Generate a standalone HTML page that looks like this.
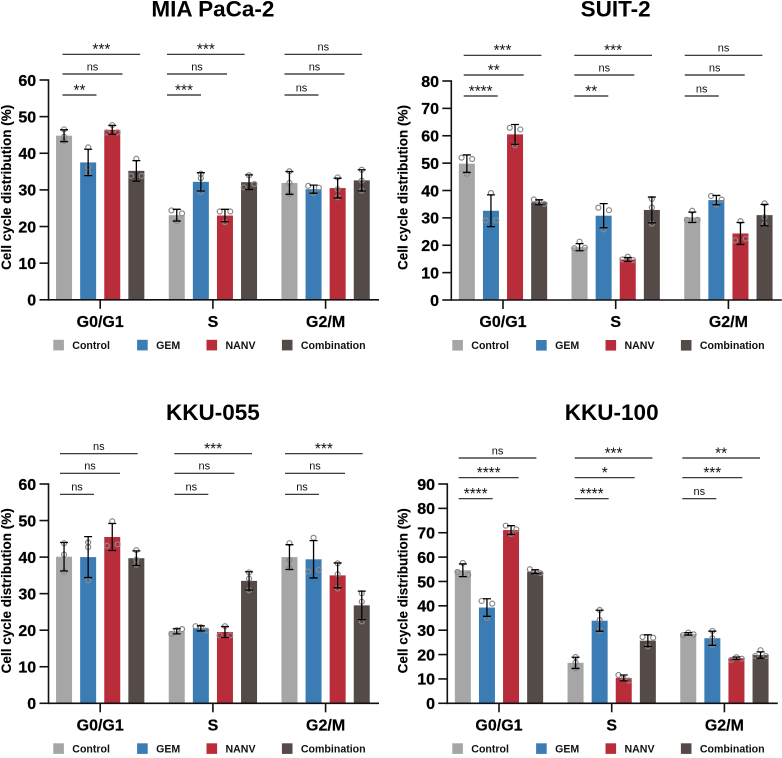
<!DOCTYPE html>
<html>
<head>
<meta charset="utf-8">
<title>Cell cycle distribution</title>
<style>
html,body{margin:0;padding:0;background:#fff;}
svg{display:block;font-family:"Liberation Sans",sans-serif;}
</style>
</head>
<body>
<svg id="figure" width="782" height="758" viewBox="0 0 782 758" xmlns="http://www.w3.org/2000/svg"></svg>
<script>
// ---- shared categories ----
const phases = ['G0/G1', 'S', 'G2/M'];
const treatments = ['Control', 'GEM', 'NANV', 'Combination'];
const treatmentColors = ['#a6a6a6', '#3c7cb4', '#b92d3a', '#544a48'];

// ---- MIA PaCa-2 ----
const miaTicks = [0, 10, 20, 30, 40, 50, 60];
const miaMeans = [[44.8, 37.5, 46.4, 35.2], [23.1, 32.2, 23.0, 32.1], [31.9, 30.2, 30.5, 32.6]];
const miaErrors = [[1.6, 3.6, 1.2, 2.8], [1.6, 2.5, 1.7, 2.0], [3.1, 1.1, 2.7, 2.9]];
const miaPoints = [
  [[46.5, 44.5, 43.4], [41.6, 36.2, 34.7], [47.7, 45.7, 45.7], [38.5, 33.8, 33.8]],
  [[24.4, 23.6, 21.5], [34.4, 33.2, 29.4], [24.1, 24.1, 21.2], [34.0, 30.7, 31.6]],
  [[35.1, 31.9, 28.9], [31.1, 30.6, 29.1], [33.4, 30.2, 28.0], [35.5, 32.5, 29.8]]
];
const miaSig = [['**', 'ns', '***'], ['***', 'ns', '***'], ['ns', 'ns', 'ns']];

// ---- SUIT-2 ----
const suitTicks = [0, 10, 20, 30, 40, 50, 60, 70, 80];
const suitMeans = [[49.8, 32.6, 60.5, 35.7], [19.3, 30.8, 14.8, 32.9], [30.2, 36.5, 24.3, 31.0]];
const suitErrors = [[3.2, 5.8, 3.6, 0.9], [1.3, 4.4, 0.7, 4.7], [1.9, 1.7, 4.0, 3.9]];
const suitPoints = [
  [[52.0, 51.5, 46.1], [39.1, 29.1, 29.1], [62.9, 62.3, 56.5], [36.7, 35.7, 35.1]],
  [[21.3, 18.9, 19.1], [33.7, 32.8, 25.8], [14.8, 15.8, 14.6], [36.9, 33.8, 27.9]],
  [[32.6, 29.3, 29.3], [38.0, 36.7, 34.8], [28.8, 21.8, 22.4], [35.3, 30.2, 27.7]]
];
const suitSig = [['****', '**', '***'], ['**', 'ns', '***'], ['ns', 'ns', 'ns']];

// ---- KKU-055 ----
const k055Ticks = [0, 10, 20, 30, 40, 50, 60];
const k055Means = [[40.1, 40.0, 45.5, 39.7], [19.7, 20.5, 19.5, 33.5], [40.0, 39.4, 35.0, 26.8]];
const k055Errors = [[3.9, 5.6, 3.7, 2.0], [0.7, 0.7, 1.5, 2.5], [3.4, 5.1, 3.4, 3.9]];
const k055Points = [
  [[43.8, 40.7, 36.0], [44.0, 42.7, 33.6], [49.8, 43.1, 43.5], [41.9, 39.3, 37.9]],
  [[19.0, 20.0, 20.3], [21.1, 20.8, 19.9], [21.1, 18.6, 18.6], [35.8, 34.1, 30.9]],
  [[43.8, 39.2, 37.1], [45.3, 36.1, 36.5], [38.3, 35.3, 31.4], [30.1, 27.8, 22.4]]
];
const k055Sig = [['ns', 'ns', 'ns'], ['ns', 'ns', '***'], ['ns', 'ns', '***']];

// ---- KKU-100 ----
const k100Ticks = [0, 10, 20, 30, 40, 50, 60, 70, 80, 90];
const k100Means = [[54.6, 39.3, 71.1, 54.0], [16.6, 33.9, 10.4, 25.7], [28.5, 26.7, 18.5, 19.8]];
const k100Errors = [[2.6, 3.6, 1.8, 0.8], [2.3, 4.3, 1.2, 2.4], [0.5, 2.9, 0.5, 1.3]];
const k100Points = [
  [[57.6, 53.9, 52.7], [42.0, 40.9, 35.0], [72.9, 71.4, 69.5], [55.0, 53.8, 53.4]],
  [[19.0, 16.7, 14.4], [38.3, 34.2, 29.8], [11.6, 10.1, 9.3], [27.2, 26.9, 23.3]],
  [[28.0, 29.0, 28.3], [29.7, 26.7, 23.9], [17.8, 18.9, 18.3], [21.8, 19.4, 19.4]]
];
const k100Sig = [['****', '****', 'ns'], ['****', '*', '***'], ['ns', '***', '**']];

const NS = 'http://www.w3.org/2000/svg';
const root = document.getElementById('figure');
const INK = '#111';

function make(tag, attrs, parent) {
  const el = document.createElementNS(NS, tag);
  for (const k in attrs) el.setAttribute(k, attrs[k]);
  parent.appendChild(el);
  return el;
}

// Beeswarm: points closer than a threshold on screen spread sideways.
function swarmOffsets(ys) {
  const out = ys.map(() => 0);
  let i = 0;
  while (i < ys.length) {
    let j = i;
    while (j + 1 < ys.length && Math.abs(ys[j + 1] - ys[j]) < 3.8) j++;
    const n = j - i + 1;
    if (n === 2) { out[i] = -5.3; out[j] = 5.3; }
    if (n === 3) { out[i] = -5.3; out[i + 1] = 0; out[j] = 5.3; }
    i = j + 1;
  }
  return out;
}

function drawPanel(cfg) {
  const g = make('g', {}, root);
  
  

  const yMax = cfg.ticks[cfg.ticks.length - 1];
  const yScale = v => cfg.y0 - (v / yMax) * (cfg.y0 - cfg.yTop);
  const groupX = i => cfg.axisX + 51.7 + 112.7 * i;
  const barX = (i, s) => groupX(i) + 24.1 * (s - 1.5);

  // title
  const title = make('text', {x: groupX(1), y: cfg.titleY, 'text-anchor': 'middle', 'font-size': 22.5, 'font-weight': 'bold', fill: '#000'}, g);
  title.textContent = cfg.title;
  
  

  // y axis title
  const yTitle = make('text', {transform: 'translate(' + cfg.yTitleX + ',' + (cfg.y0 - 112.5) + ') rotate(-90)', 'text-anchor': 'middle', 'font-size': 13.5, 'font-weight': 'bold', fill: '#000', stroke: '#000', 'stroke-width': 0.15}, g);
  yTitle.textContent = 'Cell cycle distribution (%)';
  
  

  // bars
  phases.forEach((phase, i) => {
    treatments.forEach((t, s) => {
      const cx = barX(i, s);
      const top = yScale(cfg.means[i][s]);
      const bar = make('rect', {x: cx - 8, y: top, width: 16, height: cfg.y0 - top, fill: treatmentColors[s]}, g);
      
      
    });
  });

  // points then error bars
  phases.forEach((phase, i) => {
    treatments.forEach((t, s) => {
      const cx = barX(i, s);
      const ys = cfg.points[i][s].map(yScale);
      const dx = swarmOffsets(ys);
      ys.forEach((py, k) => {
        const dot = make('circle', {cx: cx + dx[k], cy: py, r: 2.5, fill: 'none', stroke: '#8a8a8a', 'stroke-width': 1.2}, g);
        
        
      });
      const hi = yScale(cfg.means[i][s] + cfg.errors[i][s]);
      const lo = yScale(cfg.means[i][s] - cfg.errors[i][s]);
      const eb = make('path', {d: 'M' + cx + ' ' + hi + 'V' + lo + 'M' + (cx - 4) + ' ' + hi + 'H' + (cx + 4) + 'M' + (cx - 4) + ' ' + lo + 'H' + (cx + 4), fill: 'none', stroke: '#000', 'stroke-width': 1.3}, g);
      
      
    });
  });

  // axes
  const yAxis = make('line', {x1: cfg.axisX, x2: cfg.axisX, y1: cfg.yTop - 0.8, y2: cfg.y0 + 0.8, stroke: INK, 'stroke-width': 1.6}, g);
  
  
  const xAxis = make('line', {x1: cfg.axisX, x2: cfg.axisX + 330.5, y1: cfg.y0, y2: cfg.y0, stroke: INK, 'stroke-width': 1.6}, g);
  
  

  cfg.ticks.forEach(v => {
    const ty = yScale(v);
    const tick = make('line', {x1: cfg.axisX - 9, x2: cfg.axisX, y1: ty, y2: ty, stroke: INK, 'stroke-width': 1.6}, g);
    
    
    const lab = make('text', {x: cfg.axisX - 12.3, y: ty + 5.8, 'text-anchor': 'end', 'font-size': 16, 'font-weight': 'bold', fill: '#000', stroke: '#000', 'stroke-width': 0.25}, g);
    lab.textContent = v;
    
    
  });

  phases.forEach((phase, i) => {
    const tick = make('line', {x1: groupX(i), x2: groupX(i), y1: cfg.y0, y2: cfg.y0 + 9, stroke: INK, 'stroke-width': 1.6}, g);
    
    
    const lab = make('text', {x: groupX(i), y: cfg.y0 + 27, 'text-anchor': 'middle', 'font-size': 16, 'font-weight': 'bold', fill: '#000', stroke: '#000', 'stroke-width': 0.2}, g);
    lab.textContent = phase;
    
    
  });

  // significance brackets
  const spans = [34, 60, 77.7];
  phases.forEach((phase, i) => {
    spans.forEach((span, r) => {
      const x1 = cfg.sigStart[i];
      const ly = cfg.sigY[r];
      const line = make('line', {x1: x1, x2: x1 + span, y1: ly, y2: ly, stroke: '#222', 'stroke-width': 1.2}, g);
      
      
      const label = cfg.sig[i][r];
      const isNs = label === 'ns';
      const txt = make('text', {x: x1 + span / 2, y: isNs ? ly - 3.6 : ly + 0.4, 'text-anchor': 'middle', 'font-size': isNs ? 11 : 15.4, fill: '#111'}, g);
      txt.textContent = label;
      
      
    });
  });

  // legend
  const swatchX = [0, 83.8, 153.2, 228.6];
  const legendY = cfg.y0 + 40;
  treatments.forEach((t, s) => {
    const lg = make('g', {}, g);
    
    
    const sw = make('rect', {x: cfg.legendX + swatchX[s], y: legendY, width: 10.6, height: 10.6, fill: treatmentColors[s]}, lg);
    
    
    const txt = make('text', {x: cfg.legendX + swatchX[s] + 19, y: legendY + 9.2, 'font-size': 10.6, 'font-weight': 'bold', fill: '#111'}, lg);
    txt.textContent = t;
    
    
  });
}

drawPanel({slug: 'mia-paca-2', title: 'MIA PaCa-2', axisX: 48.5, y0: 299.8, yTop: 80, titleY: 16.7, yTitleX: 10.8, legendX: 53.3,
  ticks: miaTicks, means: miaMeans, errors: miaErrors, points: miaPoints, sig: miaSig,
  sigStart: [62.5, 167, 284.5], sigY: [95, 74, 54.3]});
drawPanel({slug: 'suit-2', title: 'SUIT-2', axisX: 451.3, y0: 300, yTop: 81, titleY: 16.7, yTitleX: 407.5, legendX: 452.3,
  ticks: suitTicks, means: suitMeans, errors: suitErrors, points: suitPoints, sig: suitSig,
  sigStart: [463.7, 574.3, 684.7], sigY: [96, 75, 55.3]});
drawPanel({slug: 'kku-055', title: 'KKU-055', axisX: 48.5, y0: 703.3, yTop: 484, titleY: 420, yTitleX: 10.8, legendX: 53.3,
  ticks: k055Ticks, means: k055Means, errors: k055Errors, points: k055Points, sig: k055Sig,
  sigStart: [60, 174.3, 285], sigY: [494.3, 473.3, 453.7]});
drawPanel({slug: 'kku-100', title: 'KKU-100', axisX: 447.3, y0: 703.3, yTop: 484, titleY: 420, yTitleX: 407.5, legendX: 452.3,
  ticks: k100Ticks, means: k100Means, errors: k100Errors, points: k100Points, sig: k100Sig,
  sigStart: [458.7, 574.7, 682.3], sigY: [498.7, 477.7, 458]});
</script>
</body>
</html>
